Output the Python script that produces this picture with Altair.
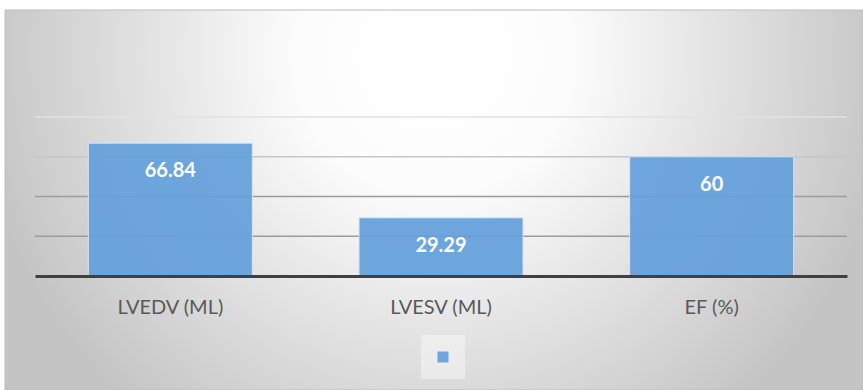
import altair as alt
import pandas as pd

# Echocardiography summary values
categories = ["LVEDV (ML)", "LVESV (ML)", "EF (%)"]
values = [66.84, 29.29, 60]
series = ["", "", ""]
grid_values = [20, 40, 60, 80]

bars_df = pd.DataFrame({"category": categories, "value": values, "series": series})
grid_df = pd.DataFrame({"v": grid_values})
panel_df = pd.DataFrame({"k": [0]})

BAR_BLUE = "#64a0dc"
FONT = "Lato"

y_scale = alt.Scale(domain=[0, 80], nice=False, zero=True)
x_scale = alt.Scale(paddingInner=0.394, paddingOuter=0.197)

# Soft radial backdrop behind the whole chart
backdrop_fill = {
    "gradient": "radial",
    "x1": 0.5, "y1": 0.33, "r1": 0,
    "x2": 0.5, "y2": 0.33, "r2": 0.54,
    "stops": [
        {"offset": 0.0, "color": "#ffffff"},
        {"offset": 0.3, "color": "#fcfcfc"},
        {"offset": 0.7, "color": "#dcdcdc"},
        {"offset": 1.0, "color": "#c4c4c4"},
    ],
}

backdrop = alt.Chart(panel_df).mark_rect(
    fill=backdrop_fill, stroke="#bdbdbd", strokeWidth=1
).encode(
    x=alt.value(-30), x2=alt.value(828), y=alt.value(-107), y2=alt.value(273)
)

grid = alt.Chart(grid_df).mark_rule(strokeWidth=1.5).encode(
    y=alt.Y("v:Q", scale=y_scale, axis=None),
    color={
        "condition": [
            {"test": "datum.v >= 80", "value": "#e2e2e2"},
            {"test": "datum.v >= 60", "value": "#c6c6c6"},
        ],
        "value": "#9c9c9c",
    },
)

x_enc = alt.X(
    "category:N",
    sort=categories,
    scale=x_scale,
    axis=alt.Axis(
        title=None,
        labelAngle=0,
        labelFont=FONT,
        labelFontSize=20,
        labelColor="#595959",
        ticks=False,
        tickSize=0,
        grid=False,
        domainColor="#404040",
        domainWidth=3,
        labelPadding=21,
        zindex=1,
    ),
)

bars = alt.Chart(bars_df).mark_bar(
    opacity=0.93, stroke="#d8e7f6", strokeWidth=1
).encode(
    x=x_enc,
    y=alt.Y("value:Q", scale=y_scale, axis=None),
    color=alt.Color(
        "series:N",
        scale=alt.Scale(range=[BAR_BLUE]),
        legend=alt.Legend(
            title=None,
            orient="none",
            legendX=386,
            legendY=218,
            symbolType="square",
            symbolSize=121,
            symbolStrokeWidth=0,
            labelFont=FONT,
            labelFontSize=24,
            labelOffset=0,
            padding=10,
            fillColor="rgba(255,255,255,0.4)",
        ),
    ),
)

labels = alt.Chart(bars_df).mark_text(
    font=FONT, fontSize=20, fontWeight="bold", color="white",
    baseline="alphabetic", dy=34,
).encode(
    x=alt.X("category:N", sort=categories, scale=x_scale),
    y=alt.Y("value:Q", scale=y_scale, axis=None),
    text=alt.Text("value:Q", format=".4~g"),
)

chart = alt.layer(backdrop, grid, bars, labels).properties(
    width=812,
    height=159,
    autosize=alt.AutoSizeParams(type="none"),
    padding={"left": 35, "top": 117, "right": 16, "bottom": 114},
    background="white",
).configure_view(stroke=None)

chart.save("out.html", embed_options={"renderer": "svg", "actions": False})
